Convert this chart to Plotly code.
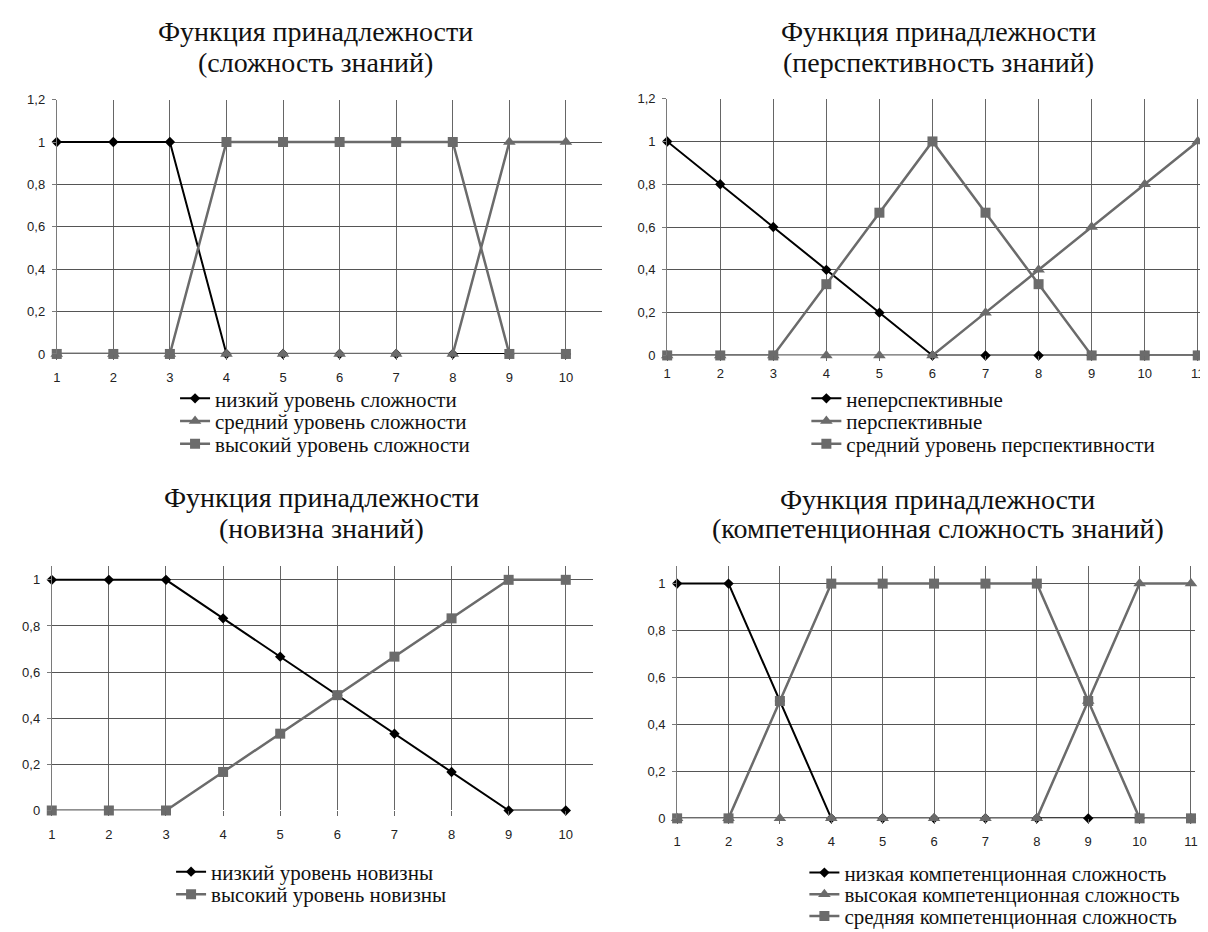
import plotly.graph_objects as go

W, H = 1208, 932

# ---------------- data ----------------
# Panel 1: сложность знаний
p1_x = [1, 2, 3, 4, 5, 6, 7, 8, 9, 10]
p1_low = [1, 1, 1, 0, 0, 0, 0, 0, 0, 0]
p1_mid = [0, 0, 0, 0, 0, 0, 0, 0, 1, 1]
p1_high = [0, 0, 0, 1, 1, 1, 1, 1, 0, 0]
p1_names = ["низкий уровень сложности", "средний уровень сложности", "высокий уровень сложности"]
p1_title = ["Функция принадлежности", "(сложность знаний)"]

# Panel 2: перспективность знаний
p2_x = [1, 2, 3, 4, 5, 6, 7, 8, 9, 10, 11]
p2_non = [1, 0.8, 0.6, 0.4, 0.2, 0, 0, 0, 0, 0, 0]
p2_persp = [0, 0, 0, 0, 0, 0, 0.2, 0.4, 0.6, 0.8, 1]
p2_mid = [0, 0, 0, 0.333, 0.667, 1, 0.667, 0.333, 0, 0, 0]
p2_names = ["неперспективные", "перспективные", "средний уровень перспективности"]
p2_title = ["Функция принадлежности", "(перспективность знаний)"]

# Panel 3: новизна знаний
p3_x = [1, 2, 3, 4, 5, 6, 7, 8, 9, 10]
p3_low = [1, 1, 1, 0.833, 0.667, 0.5, 0.333, 0.167, 0, 0]
p3_high = [0, 0, 0, 0.167, 0.333, 0.5, 0.667, 0.833, 1, 1]
p3_names = ["низкий уровень новизны", "высокий уровень новизны"]
p3_title = ["Функция принадлежности", "(новизна знаний)"]

# Panel 4: компетенционная сложность знаний
p4_x = [1, 2, 3, 4, 5, 6, 7, 8, 9, 10, 11]
p4_low = [1, 1, 0.5, 0, 0, 0, 0, 0, 0, 0, 0]
p4_high = [0, 0, 0, 0, 0, 0, 0, 0, 0.5, 1, 1]
p4_mid = [0, 0, 0.5, 1, 1, 1, 1, 1, 0.5, 0, 0]
p4_names = ["низкая компетенционная сложность", "высокая компетенционная сложность",
            "средняя компетенционная сложность"]
p4_title = ["Функция принадлежности", "(компетенционная сложность знаний)"]

y_ticks_12 = [0, 0.2, 0.4, 0.6, 0.8, 1, 1.2]
y_text_12 = ["0", "0,2", "0,4", "0,6", "0,8", "1", "1,2"]
y_ticks_10 = [0, 0.2, 0.4, 0.6, 0.8, 1]
y_text_10 = ["0", "0,2", "0,4", "0,6", "0,8", "1"]

# ---------------- styles ----------------
BLACK = "#000000"
GREY = "#6b6b6b"
SERIF = "Liberation Serif, Times New Roman, serif"
SANS = "Liberation Sans, Arial, sans-serif"

STYLE = {
    "diamond": dict(line=dict(color=BLACK, width=2),
                    marker=dict(symbol="diamond", size=8, color=BLACK)),
    "triangle": dict(line=dict(color=GREY, width=2.5),
                     marker=dict(symbol="triangle-up", size=11, color=GREY)),
    "square": dict(line=dict(color=GREY, width=2.5),
                   marker=dict(symbol="square", size=10, color=GREY)),
}

fig = go.Figure()


def px_x(p):
    return p / W


def px_y(p):
    return 1 - p / H


legend_counter = [0]
legends = {}


def add_series(x, y, name, style, ax_idx, leg_px):
    legend_counter[0] += 1
    n = legend_counter[0]
    lk = "legend" if n == 1 else f"legend{n}"
    s = STYLE[style]
    fig.add_trace(go.Scatter(
        x=x, y=y, name=name, mode="lines+markers",
        line=s["line"], marker=s["marker"], cliponaxis=False,
        xaxis="x" if ax_idx == 1 else f"x{ax_idx}",
        yaxis="y" if ax_idx == 1 else f"y{ax_idx}",
        legend=lk, showlegend=True,
    ))
    legends[lk] = dict(
        x=px_x(leg_px[0]), y=px_y(leg_px[1]), xanchor="left", yanchor="middle",
        bgcolor="rgba(0,0,0,0)", borderwidth=0,
        font=dict(family=SERIF, size=21, color="#111"),
        itemwidth=30,
    )


# legend rows (left x of legend box, row centre y)
add_series(p1_x, p1_low, p1_names[0], "diamond", 1, (164, 390))
add_series(p1_x, p1_mid, p1_names[1], "triangle", 1, (164, 413))
add_series(p1_x, p1_high, p1_names[2], "square", 1, (164, 436))

add_series(p2_x, p2_non, p2_names[0], "diamond", 2, (799, 390))
add_series(p2_x, p2_persp, p2_names[1], "triangle", 2, (799, 413))
add_series(p2_x, p2_mid, p2_names[2], "square", 2, (799, 436))

add_series(p3_x, p3_low, p3_names[0], "diamond", 3, (160, 871))
add_series(p3_x, p3_high, p3_names[1], "square", 3, (160, 894))

add_series(p4_x, p4_low, p4_names[0], "diamond", 4, (797, 872))
add_series(p4_x, p4_high, p4_names[1], "triangle", 4, (797, 894))
add_series(p4_x, p4_mid, p4_names[2], "square", 4, (797, 916))

# ---------------- axes ----------------
panels = [
    # idx, x-domain px, y-domain px (top, bottom), x-range, y-range, xticks, yticks, ytext, standoff
    (1, (45, 593), (86, 344.5), (1, 10.63), (0, 1.2), p1_x, y_ticks_12, y_text_12, 6),
    (2, (659, 1198), (85, 346), (1, 11.1), (0, 1.2), p2_x, y_ticks_12, y_text_12, 1),
    (3, (40, 584), (560, 808.5), (1, 10.47), (0, 1.06), p3_x, y_ticks_10, y_text_10, 7),
    (4, (669, 1190), (560, 816.5), (1, 11.08), (0, 1.075), p4_x, y_ticks_10, y_text_10, 6),
]

layout_axes = {}
for idx, xd, yd, xr, yr, xt, yt, ytt, so in panels:
    xk = "xaxis" if idx == 1 else f"xaxis{idx}"
    yk = "yaxis" if idx == 1 else f"yaxis{idx}"
    layout_axes[xk] = dict(
        domain=[px_x(xd[0]), px_x(xd[1])], range=list(xr),
        anchor="y" if idx == 1 else f"y{idx}",
        tickvals=xt, ticktext=[str(v) for v in xt],
        showgrid=True, gridcolor="#666666", gridwidth=1,
        zeroline=False, showline=False,
        ticks="outside", ticklen=5, tickcolor="#666666",
        tickfont=dict(family=SANS, size=13, color="#222"),
        ticklabelstandoff=so, fixedrange=True,
    )
    layout_axes[yk] = dict(
        domain=[px_y(yd[1]), px_y(yd[0])], range=list(yr),
        anchor="x" if idx == 1 else f"x{idx}",
        tickvals=yt, ticktext=ytt,
        showgrid=True, gridcolor="#555555", gridwidth=1,
        zeroline=False, showline=True, linecolor="#7a7a7a", linewidth=1,
        ticks="outside", ticklen=4, tickcolor="#7a7a7a",
        tickfont=dict(family=SANS, size=13, color="#222"),
        ticklabelstandoff=4, fixedrange=True,
    )

# ---------------- titles ----------------
annotations = []
title_specs = [
    (p1_title, 305, 17, 48),
    (p2_title, 932, 17, 48),
    (p3_title, 311, 490, 522),
    (p4_title, 931, 492, 522),
]
for lines, cx, y1, y2 in title_specs:
    for line, yy in zip(lines, (y1, y2)):
        annotations.append(dict(
            text=line, x=px_x(cx), y=px_y(yy), xref="paper", yref="paper",
            xanchor="center", yanchor="middle", showarrow=False,
            font=dict(family=SERIF, size=28, color="#111"),
        ))

fig.update_layout(
    width=W, height=H,
    margin=dict(l=0, r=0, t=0, b=0),
    paper_bgcolor="white", plot_bgcolor="white",
    annotations=annotations,
    **layout_axes,
    **legends,
)

fig.write_html("out.html")
